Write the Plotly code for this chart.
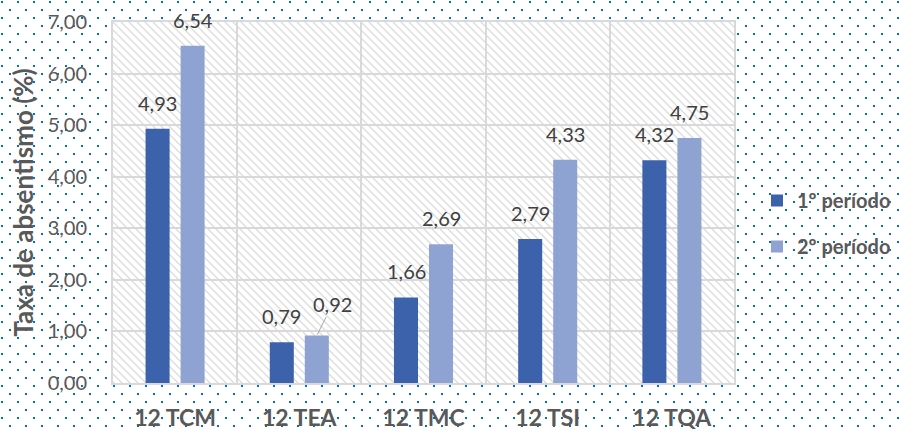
import base64
import plotly.graph_objects as go

categories = ["12 TCM", "12 TEA", "12 TMC", "12 TSI", "12 TQA"]
periodo_1 = [4.93, 0.79, 1.66, 2.79, 4.32]
periodo_2 = [6.54, 0.92, 2.69, 4.33, 4.75]
series_names = ["1º período", "2º período"]
y_tick_values = [0, 1, 2, 3, 4, 5, 6, 7]
y_title = "Taxa de absentismo (%)"

W, H = 904, 432
ML, MR, MT, MB = 113, 170, 22, 49
PW, PH = W - ML - MR, H - MT - MB

DARK = "#3C62AB"
LIGHT = "#8FA3D3"
FONT = "Lato"


def svg_uri(svg):
    return "data:image/svg+xml;base64," + base64.b64encode(svg.encode()).decode()


dots_svg = (
    f"<svg xmlns='http://www.w3.org/2000/svg' width='{W}' height='{H}' viewBox='0 0 {W} {H}'>"
    "<defs><pattern id='d' width='16' height='16' patternUnits='userSpaceOnUse'>"
    "<rect x='1' y='1' width='2' height='2' fill='#0070C0'/>"
    "<rect x='9' y='9' width='2' height='2' fill='#0070C0'/>"
    "</pattern></defs>"
    f"<rect width='{W}' height='{H}' fill='white'/>"
    f"<rect width='{W}' height='{H}' fill='url(#d)'/></svg>"
)

hatch_svg = (
    f"<svg xmlns='http://www.w3.org/2000/svg' width='{PW}' height='{PH}' viewBox='0 0 {PW} {PH}'>"
    "<defs><pattern id='h' width='8' height='8' patternUnits='userSpaceOnUse'>"
    "<path d='M-2,6 L2,10 M0,0 L8,8 M6,-2 L10,2' stroke='#DCDCDC' stroke-width='1.3'/>"
    "</pattern></defs>"
    f"<rect width='{PW}' height='{PH}' fill='white'/>"
    f"<rect width='{PW}' height='{PH}' fill='url(#h)'/></svg>"
)

fig = go.Figure()
for name, vals, col, grp in [
    (series_names[0], periodo_1, DARK, "g1"),
    (series_names[1], periodo_2, LIGHT, "g2"),
]:
    fig.add_trace(go.Bar(x=categories, y=vals, name=name, marker=dict(color=col, line=dict(width=0)),
                         legendgroup=grp, hoverinfo="skip"))

def fmt(v):
    return f"{v:.2f}".replace(".", ",")

annotations = []
for vals, shift in [(periodo_1, -17.5), (periodo_2, 17.5)]:
    for c, v in zip(categories, vals):
        if c == "12 TEA" and vals is periodo_2:
            annotations.append(dict(x=c, y=v, xref="x", yref="y", text=fmt(v), showarrow=True,
                                    arrowhead=0, arrowwidth=1, arrowcolor="#A6A6A6", xshift=shift,
                                    ax=16, ay=-32, standoff=1,
                                    font=dict(family=FONT, size=20, color="#404040")))
        else:
            annotations.append(dict(x=c, y=v, xref="x", yref="y", text=fmt(v), showarrow=False,
                                    xshift=shift, yshift=26, yanchor="middle",
                                    font=dict(family=FONT, size=20, color="#404040")))

fig.update_layout(
    width=W, height=H,
    margin=dict(l=ML, r=MR, t=MT, b=MB, pad=0, autoexpand=False),
    paper_bgcolor="white", plot_bgcolor="rgba(0,0,0,0)",
    separators=",.",
    barmode="group", bargap=0.436, bargroupgap=0.314,
    font=dict(family=FONT, color="#595959"),
    showlegend=True,
    legend=dict(xref="container", yref="container", x=757 / W, y=1 - 181 / H,
                xanchor="left", yanchor="top", bgcolor="rgba(0,0,0,0)",
                font=dict(family=FONT, size=20, color="#595959", weight="bold"),
                tracegroupgap=17, itemclick=False, itemdoubleclick=False),
    annotations=annotations,
    images=[
        dict(source=svg_uri(dots_svg), xref="paper", yref="paper",
             x=-ML / PW, y=1 + MT / PH, sizex=W / PW, sizey=H / PH,
             sizing="stretch", layer="below", xanchor="left", yanchor="top"),
        dict(source=svg_uri(hatch_svg), xref="paper", yref="paper",
             x=0, y=1, sizex=1, sizey=1,
             sizing="stretch", layer="below", xanchor="left", yanchor="top"),
    ],
)

fig.update_xaxes(
    type="category", tickson="boundaries", showgrid=True, gridcolor="#D9D9D9", gridwidth=2,
    showline=True, mirror=True, linecolor="#D9D9D9", linewidth=2, automargin=False,
    ticks="", ticklabelstandoff=13,
    tickfont=dict(family=FONT, size=23, color="#595959", weight="bold"),
)
fig.update_yaxes(
    range=[0, 7], tickvals=y_tick_values, tickformat=".2f", automargin=False,
    showgrid=True, gridcolor="#D9D9D9", gridwidth=2,
    showline=True, mirror=True, linecolor="#D9D9D9", linewidth=2, zeroline=False,
    ticks="", ticklabelstandoff=20,
    tickfont=dict(family=FONT, size=20, color="#595959"),
    title=dict(text=y_title, standoff=7,
               font=dict(family=FONT, size=26, color="#595959", weight="bold")),
)

fig.write_html("out.html", config={"displayModeBar": False},
               post_script="document.body.style.margin='0';document.body.style.overflow='hidden';")
